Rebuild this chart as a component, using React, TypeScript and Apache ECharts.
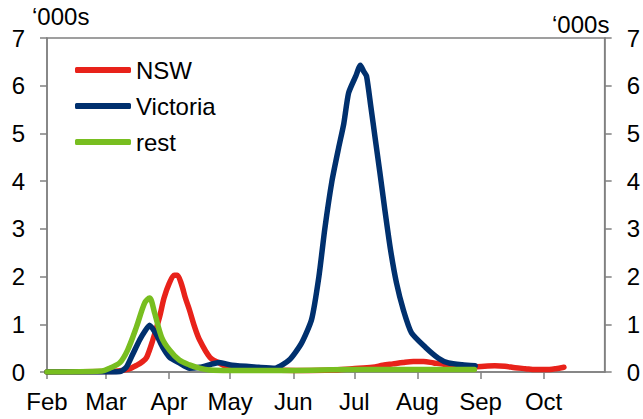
import React, { useEffect, useRef } from "react";
import * as echarts from "echarts";

// day offsets from 1 Feb 2020
const monthStarts = [0, 29, 60, 90, 121, 151, 182, 213, 244];
const monthNames = ["Feb", "Mar", "Apr", "May", "Jun", "Jul", "Aug", "Sep", "Oct"];
const yTicks = [0, 1, 2, 3, 4, 5, 6, 7];

const nswDays = [0, 30, 35, 40, 44, 47, 49, 52, 55.3, 57.5, 60, 62.5, 64, 66, 68, 70, 72.5, 75, 80, 84.6, 88, 95, 110, 125, 140, 150, 160, 165, 170, 175, 180, 185, 190, 195, 200, 205, 210, 215, 220, 225, 230, 235, 240, 245, 250, 254];
const nswVals = [0, 0.01, 0.02, 0.06, 0.14, 0.22, 0.31, 0.67, 1.15, 1.55, 1.85, 2.03, 2.03, 1.85, 1.55, 1.3, 0.95, 0.67, 0.31, 0.19, 0.12, 0.06, 0.04, 0.03, 0.04, 0.07, 0.1, 0.14, 0.17, 0.2, 0.22, 0.22, 0.19, 0.16, 0.14, 0.12, 0.11, 0.12, 0.13, 0.12, 0.09, 0.07, 0.05, 0.05, 0.07, 0.1];

const vicDays = [0, 30, 36, 39, 42, 45.5, 48, 50.4, 53.8, 56.8, 60.2, 65, 70, 75, 79.7, 84.6, 91, 104, 112, 119, 125, 130, 133.6, 136.5, 140, 143.3, 145.8, 148.2, 151.7, 154, 155.6, 157, 159, 161.4, 163.5, 166, 168.8, 171.7, 175.1, 179.1, 185.9, 192.3, 197.2, 204, 210.4];
const vicVals = [0, 0, 0.01, 0.1, 0.36, 0.67, 0.85, 0.98, 0.78, 0.52, 0.31, 0.19, 0.08, 0.1, 0.15, 0.2, 0.14, 0.1, 0.08, 0.25, 0.6, 1.1, 2.0, 3.0, 4.0, 4.7, 5.2, 5.85, 6.2, 6.43, 6.3, 6.2, 5.6, 4.85, 4.2, 3.4, 2.56, 1.87, 1.3, 0.82, 0.52, 0.29, 0.19, 0.15, 0.13];

const restDays = [0, 27, 30.8, 35.7, 39.6, 44, 48, 50.4, 52.8, 56.3, 60.2, 65, 70, 74.9, 80, 90, 120, 150, 180, 210];
const restVals = [0, 0.02, 0.08, 0.19, 0.46, 0.95, 1.45, 1.55, 1.25, 0.73, 0.46, 0.25, 0.15, 0.08, 0.04, 0.03, 0.03, 0.05, 0.05, 0.05];

const zip = (d: number[], v: number[]) => d.map((x, i) => [x, v[i]]);

const FONT = "'Liberation Sans', Arial, sans-serif";
const AXIS = "#808080";

export default function App() {
  const ref = useRef<HTMLDivElement>(null);
  useEffect(() => {
    const chart = echarts.init(ref.current!, null, { renderer: "svg" });
    const lineStyle = (c: string) => ({ color: c, width: 5.5, cap: "round", join: "round" });
    chart.setOption({
      animation: false,
      backgroundColor: "#fff",
      grid: { left: 47, right: 36, top: 38, bottom: 47, show: true, borderColor: AXIS, borderWidth: 1.5 },
      legend: {
        orient: "vertical",
        left: 75,
        top: 58,
        itemWidth: 56,
        itemHeight: 6,
        itemGap: 12,
        padding: 0,
        icon: "roundRect",
        textStyle: { fontFamily: FONT, fontSize: 24, color: "#000" },
        data: ["NSW", "Victoria", "rest"],
      },
      xAxis: {
        type: "value",
        min: 0,
        max: 274,
        axisLine: { show: true, lineStyle: { color: AXIS, width: 1.5 } },
        axisTick: { show: true, customValues: monthStarts, length: 7, lineStyle: { color: AXIS, width: 1.5 } },
        axisLabel: {
          customValues: monthStarts,
          margin: 17,
          fontFamily: FONT,
          fontSize: 24,
          color: "#000",
          formatter: (v: number) => monthNames[monthStarts.indexOf(Math.round(v))] ?? "",
        },
        splitLine: { show: false },
      },
      yAxis: [0, 1].map((i) => ({
        type: "value",
        position: i === 0 ? "left" : "right",
        min: 0,
        max: 7,
        interval: 1,
        axisLine: { show: true, lineStyle: { color: AXIS, width: 1.5 } },
        axisTick: { show: true, length: 7, lineStyle: { color: AXIS, width: 1.5 } },
        axisLabel: { margin: 22, fontFamily: FONT, fontSize: 24, color: "#000", formatter: (v: number) => (yTicks.includes(v) ? String(v) : "") },
        splitLine: { show: false },
      })),
      graphic: [
        { type: "text", left: 32, top: 4, style: { text: "\u2018000s", font: `24px ${FONT}`, fill: "#000" } },
        { type: "text", left: 552, top: 12, style: { text: "\u2018000s", font: `24px ${FONT}`, fill: "#000" } },
      ],
      series: [
        { name: "NSW", type: "line", data: zip(nswDays, nswVals), showSymbol: false, smooth: 0.3, color: "#e8221a", lineStyle: lineStyle("#e8221a"), z: 2 },
        { name: "Victoria", type: "line", data: zip(vicDays, vicVals), showSymbol: false, smooth: 0.2, color: "#00306e", lineStyle: lineStyle("#00306e"), z: 3 },
        { name: "rest", type: "line", data: zip(restDays, restVals), showSymbol: false, smooth: 0.3, color: "#78be20", lineStyle: lineStyle("#78be20"), z: 4 },
      ],
    });
    return () => chart.dispose();
  }, []);
  return <div ref={ref} style={{ width: 643, height: 419, position: "absolute", left: 0, top: 0 }} />;
}
